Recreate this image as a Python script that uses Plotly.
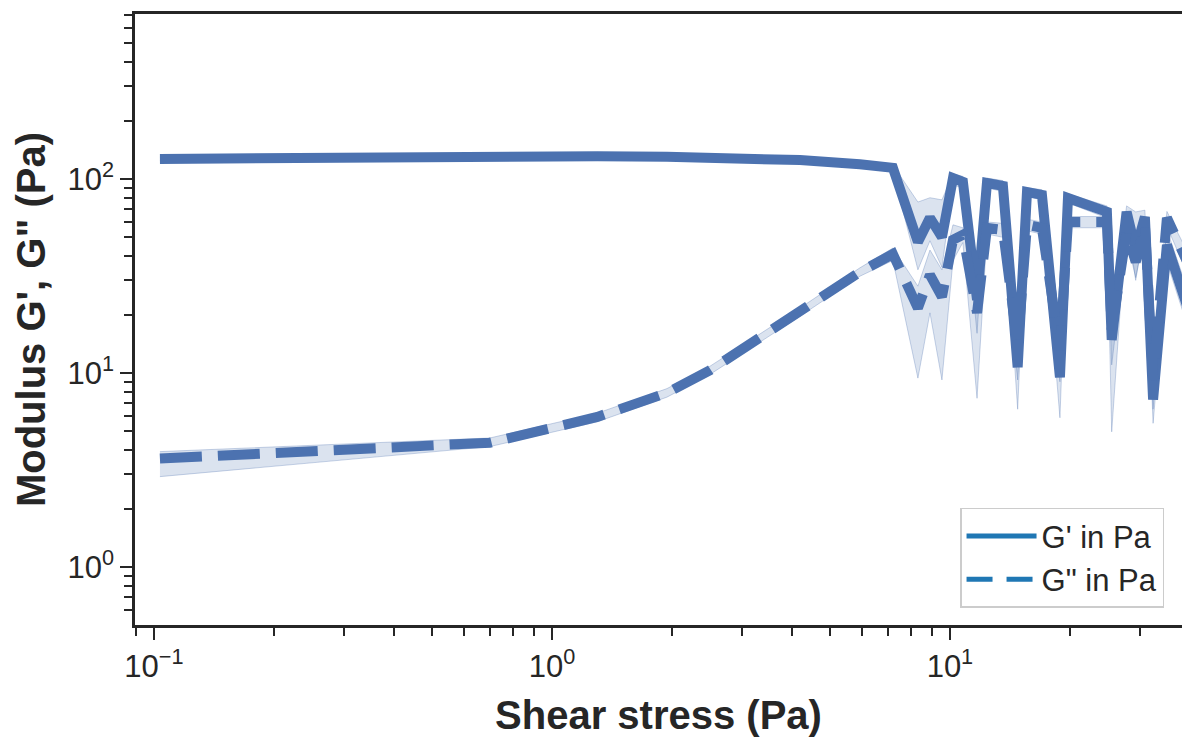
import numpy as np
import plotly.graph_objects as go

# ---------------- data ----------------
stress = [0.1035, 0.698, 1.30, 1.945, 2.49, 4.20, 5.94, 7.19, 8.31, 8.91, 9.55,
          10.18, 10.78, 11.7, 12.39, 13.59, 14.8, 15.62, 17.03, 18.9, 19.8,
          24.8, 25.5, 27.8, 29.3, 30.9, 32.4, 35.1, 43.7]

g_storage = [126.8, 131.4, 131, 130, 129, 125, 119, 114, 47.3, 63, 50.2,
             101, 96.5, 23.8, 95.3, 92, 10.7, 85.7, 82.7, 9.5, 79.8,
             67.6, 14.8, 67.6, 43, 63.7, 7.3, 45.7, 11.7]
g_storage_lo = [124, 129, 128.5, 127.5, 126.5, 122.5, 116.5, 110, 34, 48, 35,
                93, 90, 16, 90, 86, 6.5, 81, 78, 5.87, 75.2,
                62.9, 4.97, 63, 30, 58, 5.5, 37.3, 9.2]
g_storage_hi = [129.5, 134, 133.5, 132.5, 131.5, 127.5, 121.5, 118, 76, 80, 78,
                106, 103, 34, 101, 98, 13.2, 90, 88, 12.4, 83.7,
                72.6, 18.8, 72.6, 67.6, 69, 9.2, 54.6, 14.8]

g_loss = [3.62, 4.37, 5.93, 7.89, 10.3, 20.6, 33.1, 41, 21.6, 32, 24.7,
          48.5, 51.5, 20.4, 55.9, 54.6, 13.9, 58, 55.9, 13.1, 60,
          60, 16.7, 53.3, 37.3, 58, 9.2, 63, 23.8]
g_loss_lo = [2.92, 4.17, 5.6, 7.5, 9.8, 19.6, 31.5, 38, 9.4, 20.4, 9.2,
             38, 47, 7.4, 52, 50, 9.2, 54, 52, 9.0, 56,
             56, 11, 49, 31, 53, 6.5, 57, 20]
g_loss_hi = [3.93, 4.62, 6.2, 8.3, 10.8, 21.6, 34.8, 44, 28, 43, 34,
             58, 56, 28, 60, 59, 20, 62, 60, 18, 64,
             64, 24, 58, 45, 63, 12.5, 68, 28]

series_names = ["G' in Pa", 'G" in Pa']
x_major = [0.1, 1, 10]
x_major_text = ["10<sup>\u22121</sup>", "10<sup>0</sup>", "10<sup>1</sup>"]
y_major = [1, 10, 100]
y_major_text = ["10<sup>0</sup>", "10<sup>1</sup>", "10<sup>2</sup>"]
x_range = [0.0896, 38.3]
y_range = [0.502, 708]

# ---------------- styling ----------------
LINE = "#4c72b0"
BAND = "rgba(76,114,176,0.20)"
BAND_EDGE = "rgba(76,114,176,0.30)"
LEG = "#1f77b4"
INK = "#262626"
FONT = "Liberation Sans, Arial, sans-serif"

fig = go.Figure()

def add_band(lo, hi):
    fig.add_trace(go.Scatter(x=stress, y=lo, mode="lines",
                             line=dict(color=BAND_EDGE, width=1),
                             showlegend=False, hoverinfo="skip"))
    fig.add_trace(go.Scatter(x=stress, y=hi, mode="lines", fill="tonexty",
                             fillcolor=BAND,
                             line=dict(color=BAND_EDGE, width=1),
                             showlegend=False, hoverinfo="skip"))

add_band(g_storage_lo, g_storage_hi)
add_band(g_loss_lo, g_loss_hi)

fig.add_trace(go.Scatter(x=stress, y=g_storage, mode="lines",
                         line=dict(color=LINE, width=10),
                         showlegend=False))
fig.add_trace(go.Scatter(x=stress, y=g_loss, mode="lines",
                         line=dict(color=LINE, width=10, dash="42px,16px"),
                         showlegend=False))

# legend entries
fig.add_trace(go.Scatter(x=[None], y=[None], mode="lines", name=series_names[0],
                         line=dict(color=LEG, width=5)))
fig.add_trace(go.Scatter(x=[None], y=[None], mode="lines", name=series_names[1],
                         line=dict(color=LEG, width=5, dash="26px,14px")))

def minors(lo, hi):
    vals = []
    for k in range(-2, 4):
        for m in range(2, 10):
            v = m * 10.0 ** k
            if lo <= v <= hi:
                vals.append(v)
    return vals

axis_common = dict(
    type="log", showline=True, linecolor=INK, linewidth=2.5,
    ticks="outside", ticklen=12, tickwidth=2, tickcolor=INK,
    showgrid=False, zeroline=False, automargin=False,
    tickfont=dict(family=FONT, size=31, color=INK),
    tickmode="array",
)

fig.update_xaxes(
    **axis_common,
    range=[np.log10(x_range[0]), np.log10(x_range[1])],
    tickvals=x_major, ticktext=x_major_text,
    mirror=True,
    minor=dict(tickmode="array", tickvals=minors(*x_range), ticks="outside",
               ticklen=8, tickwidth=1.5, tickcolor=INK, showgrid=False),
    title=dict(text="Shear stress (Pa)",
               font=dict(family=FONT, size=40, color=INK, weight="bold"),
               standoff=19),
)
fig.update_yaxes(
    **axis_common,
    range=[np.log10(y_range[0]), np.log10(y_range[1])],
    tickvals=y_major, ticktext=y_major_text,
    minor=dict(tickmode="array", tickvals=minors(*y_range), ticks="outside",
               ticklen=8, tickwidth=1.5, tickcolor=INK, showgrid=False),
    title=dict(text='Modulus G\', G" (Pa)',
               font=dict(family=FONT, size=40, color=INK, weight="bold"),
               standoff=10),
)

fig.update_layout(
    width=1182, height=738, autosize=False,
    margin=dict(l=135, r=0, t=14, b=113),
    paper_bgcolor="white", plot_bgcolor="white",
    font=dict(family=FONT, color=INK),
    legend=dict(x=0.788, y=0.028, xanchor="left", yanchor="bottom",
                traceorder="normal",
                bgcolor="white", bordercolor="#cccccc", borderwidth=1.5,
                font=dict(family=FONT, size=31, color=INK),
                itemwidth=70, tracegroupgap=0),
)

fig.write_html(
    "out.html",
    config={"displayModeBar": False},
    post_script="document.body.style.margin='0px';"
                "document.body.style.overflow='hidden';",
)
